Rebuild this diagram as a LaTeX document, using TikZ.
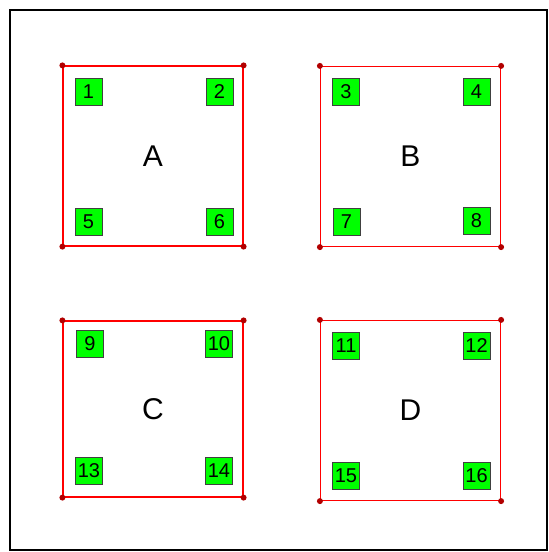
\documentclass[tikz,border=0pt]{standalone}
\usepackage{fontspec}
\setmainfont{Liberation Sans}
\usetikzlibrary{positioning}

\begin{document}
\begin{tikzpicture}[
  x=1pt,y=-1pt,
  frame/.style={draw=black, line width=2pt},
  region/.style={draw=red, line width=1.2pt, minimum width=180pt,
    minimum height=180pt, inner sep=0pt, font=\fontsize{30}{30}\selectfont},
  cell/.style={draw=black!75, fill=green, line width=0.8pt,
    minimum size=27pt, inner sep=0pt, font=\fontsize{20}{20}\selectfont},
  corner/.style={circle, fill=red!70!black, inner sep=0pt, minimum size=6pt}
]
\useasboundingbox (0,0) rectangle (549,552);
\draw[frame] (10,10) rectangle (547,550);

\node[region] (regA) at (153,156) {A};
\node[region] (regB) at (410.5,156.5) {B};
\node[region, minimum height=176pt] (regC) at (153,409) {C};
\node[region] (regD) at (410.5,410.5) {D};

\foreach \r in {regA,regB,regC,regD}
  \foreach \a in {north west,north east,south west,south east}
    \node[corner] at (\r.\a) {};

\node[cell] (c1) at (88.5,91.5) {1};
\node[cell] (c2) at (219.5,91.5) {2};
\node[cell] (c5) at (88.5,221.5) {5};
\node[cell] (c6) at (219.5,221.5) {6};

\node[cell] (c3) at (346,91.5) {3};
\node[cell] (c4) at (476.5,91.5) {4};
\node[cell] (c7) at (346.5,221.5) {7};
\node[cell] (c8) at (476.5,220.5) {8};

\node[cell] (c9) at (90,344) {9};
\node[cell] (c10) at (219,344) {10};
\node[cell] (c13) at (89,470.5) {13};
\node[cell] (c14) at (219,470.5) {14};

\node[cell] (c11) at (346,345.5) {11};
\node[cell] (c12) at (476.5,345.5) {12};
\node[cell] (c15) at (346,475.5) {15};
\node[cell] (c16) at (476.5,475.5) {16};
\end{tikzpicture}
\end{document}
